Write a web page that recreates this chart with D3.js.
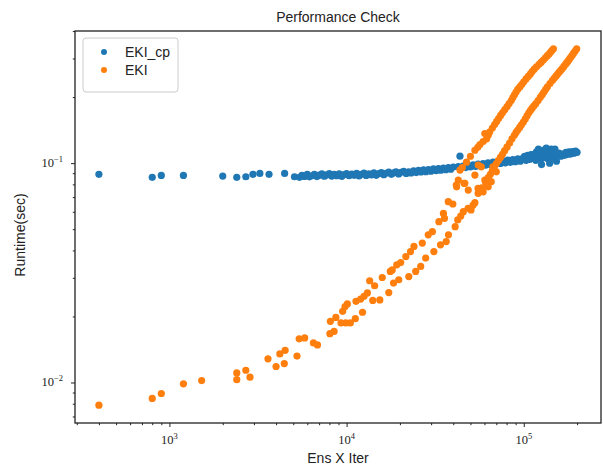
<!DOCTYPE html>
<html>
<head>
<meta charset="utf-8">
<script src="https://cdn.jsdelivr.net/npm/d3@7"></script>
<style>
  body { margin: 0; background: #fff; }
</style>
</head>
<body>
<svg id="chart"></svg>
<script>
// series names + colours (matplotlib default cycle)
const seriesNames = ["EKI_cp", "EKI"];
const seriesColors = ["#1f77b4", "#ff7f0e"];

// EKI_cp : [ens x iter, runtime]
const cpPoints = [
  [400, .0889], [800, .0862], [900, .0879], [1200, .0879], [2000, .0873], [2400, .0862],
  [2700, .0867], [2960, .0889], [3240, .0898], [3650, .0889], [4470, .0898], [5080, .0867],
  [5420, .0862], [5600, .0880], [5780, .0870], [6000, .0888], [6170, .0866], [6400, .0876],
  [6580, .0889], [6800, .0868], [7020, .0881], [7250, .0893], [7490, .0872], [7700, .0884],
  [7990, .0895], [8250, .0873], [8520, .0888], [8800, .0877], [9080, .0894], [9400, .0871],
  [9690, .0887], [10000, .0897], [10330, .0876], [10700, .0891], [11020, .0880], [11400, .0898],
  [11750, .0874], [12100, .0890], [12540, .0900], [12900, .0879], [13370, .0894], [13800, .0883],
  [14260, .0902], [14700, .0880], [15210, .0896], [15700, .0906], [16220, .0886], [16700, .0899],
  [17300, .0910], [17900, .0889], [18460, .0903], [19000, .0913], [19690, .0892], [20300, .0908],
  [21000, .0918], [21700, .0897], [22400, .0913], [23100, .0902], [23890, .0922], [24700, .0906],
  [25480, .0927], [26300, .0911], [27180, .0932], [28000, .0914], [28990, .0935], [29900, .0919],
  [30920, .0941], [32000, .0924], [32980, .0945], [34000, .0929], [35180, .0950], [36300, .0934],
  [37520, .0955], [38700, .0939], [40020, .0960], [43650, .1076], [42690, .0963], [44000, .0949],
  [45530, .0970], [47000, .0954], [48560, .0976], [50000, .0960], [51800, .0982], [53500, .0966],
  [55250, .0989], [57000, .0971], [58930, .0996], [60800, .0978], [62860, .1003], [65000, .0984],
  [67040, .1010], [69000, .0990], [71510, .1017], [73800, .0997], [76270, .1024], [78700, .1003],
  [81350, .1031], [84000, .1009], [86770, .1038], [89500, .1015], [92560, .1045], [95500, .1020],
  [98720, .1052], [101000, .1075], [103000, .1030], [105300, .1085], [108000, .1040], [110000, .1095],
  [112300, .1050], [115000, .1100], [117000, .1030], [118000, .1125], [119800, .1075], [121000, .1160],
  [122000, .1100], [124000, .1135], [125000, .1045], [126000, .0985], [127800, .1085], [130000, .1060],
  [131000, .1150], [133000, .1100], [134000, .1170], [136300, .1050], [138000, .1120], [139000, .1090],
  [140000, .1000], [142000, .1070], [143000, .1160], [145400, .1105], [146000, .1135], [148000, .1060],
  [150000, .1160], [151000, .1095], [153000, .1020], [155100, .1080], [158000, .1110], [162000, .1075],
  [165400, .1100], [170000, .1085], [173000, .1120], [176400, .1095], [180000, .1125], [184000, .1100],
  [188200, .1130], [192000, .1110], [196000, .1135], [200000, .1120]
];

// EKI
const ekiPoints = [
  [400, .00788], [800, .00846], [900, .00891], [1200, .00986], [1520, .0102],
  [2400, .01106], [2400, .0103], [2700, .01137], [2850, .01057],
  [3600, .01282], [4000, .01183], [4200, .0135], [4450, .01219], [4500, .01402],
  [5250, .0132], [5400, .01581], [5800, .01597], [6500, .01514], [6850, .01483],
  [8050, .0167], [8500, .0171], [8100, .019], [8700, .0198], [9300, .01868], [9900, .01868], [10500, .01868],
  [9500, .0211], [9800, .0222], [10100, .0228], [11200, .01954], [11300, .02344], [12000, .024],
  [12300, .0209], [12550, .0247], [13100, .0256], [13500, .0291], [14050, .02366], [14400, .0276],
  [15400, .0238], [15900, .0301], [17300, .0257], [17650, .0321], [18400, .0284], [19200, .0344],
  [18100, .0326], [19700, .0294], [20200, .0352], [21600, .0375], [22450, .0304], [22950, .0395],
  [24000, .0417], [24550, .0321], [26200, .0338], [26750, .0432], [27950, .0369], [28900, .0471],
  [30500, .0487], [31100, .0395], [33200, .0541], [33900, .0424], [35700, .056], [36500, .0439],
  [37600, .0471], [39800, .0651], [41000, .0513], [42400, .0551], [44100, .0574], [45600, .0601],
  [48500, .0622], [50400, .0612], [51800, .0644], [53000, .066], [35200, .059], [37500, .0667],
  [41600, .0794], [41800, .078], [42700, .0837], [43650, .093], [46000, .0809], [46500, .0809],
  [48600, .0754], [53000, .0882], [55200, .0767], [55250, .0728], [55300, .098], [57600, .0962],
  [59000, .074], [60300, .0837], [60300, .1364], [63000, .078], [65500, .0823], [67000, .0962], [70000, .0913],
  // upper branch
  [45000, .0955], [47500, .101], [50000, .1075], [53000, .1145], [55000, .118], [56600, .1215],
  [59000, .1255], [61700, .129], [63000, .134], [64300, .139], [66500, .1445], [68500, .150],
  [70300, .155], [72200, .160], [74000, .165], [76000, .170], [78200, .1755], [80500, .181],
  [82700, .187], [85000, .193], [86800, .199], [88600, .205], [90500, .211], [92500, .217],
  [95000, .2225], [97400, .228], [100000, .235], [103000, .242], [106000, .2485], [109000, .255],
  [111500, .2615], [114500, .268], [118000, .275], [122000, .282], [125500, .2885], [129000, .295],
  [132500, .302], [136000, .309], [139000, .3145], [141500, .320], [144000, .326], [147000, .332],
  // lower branch
  [58000, .0771], [61000, .0815], [63000, .086], [64800, .089], [66500, .0925], [68200, .096],
  [70000, .0995], [72000, .103], [74000, .1065], [76000, .110], [78000, .114], [80500, .1185],
  [83200, .1235], [85800, .129], [88500, .134], [90500, .138], [92500, .1415], [94800, .1455],
  [97000, .1495], [99500, .154], [102000, .159], [104500, .1645], [107000, .170], [109200, .174],
  [111500, .178], [114200, .1825], [117000, .187], [120500, .193], [124000, .1995], [127000, .205],
  [130000, .211], [133000, .217], [136000, .223], [140500, .2305], [145000, .238], [148500, .2435],
  [152000, .249], [155000, .254], [158000, .259], [161500, .2645], [165000, .270], [168500, .276],
  [172000, .282], [175000, .287], [178000, .2925], [181000, .298], [184000, .3035], [187500, .310],
  [191000, .317], [195000, .3245], [199000, .332]
];

// decades that carry a label
const xTickExps = [3, 4, 5];
const yTickExps = [-2, -1];

class LogScatter {

    constructor(config, series) {
        this.config = {
            parent: config.parent,
            width: config.width || 603,
            height: config.height || 468,
            margin: config.margin || {top: 31, right: 2, bottom: 45, left: 75}
        };
        this.series = series;
        this.init();
    }

    init() {
        let self = this;

        self.svg = d3.select(self.config.parent)
            .attr('width', self.config.width)
            .attr('height', self.config.height)
            .style('font-family', '"Liberation Sans", Arial, sans-serif');

        self.inner_width = self.config.width - self.config.margin.left - self.config.margin.right;
        self.inner_height = self.config.height - self.config.margin.top - self.config.margin.bottom;

        self.chart = self.svg.append('g')
            .attr('transform', `translate(${self.config.margin.left}, ${self.config.margin.top})`);

        // matplotlib style 5% padding in log space
        let all = self.series.flatMap(s => s.points);
        let pad = (ext) => {
            let lo = Math.log10(ext[0]), hi = Math.log10(ext[1]), m = (hi - lo) * 0.05;
            return [Math.pow(10, lo - m), Math.pow(10, hi + m)];
        };

        self.xscale = d3.scaleLog()
            .domain(pad(d3.extent(all, d => d[0])))
            .range([0, self.inner_width]);

        self.yscale = d3.scaleLog()
            .domain(pad(d3.extent(all, d => d[1])))
            .range([self.inner_height, 0]);
    }

    render() {
        let self = this;
        let isMajor = v => Math.abs(Math.log10(v) - Math.round(Math.log10(v))) < 1e-9;

        // x axis
        let xAxis = d3.axisBottom(self.xscale)
            .tickValues(self.xscale.ticks())
            .tickFormat('')
            .tickSizeOuter(0);
        let xg = self.chart.append('g')
            .attr('transform', `translate(0, ${self.inner_height})`)
            .call(xAxis);
        xg.select('.domain').remove();
        xg.selectAll('.tick line')
            .attr('stroke', '#222')
            .attr('stroke-width', 1)
            .attr('y2', d => isMajor(d) ? 4 : 2.2);

        let xlab = self.chart.append('g')
            .selectAll('text')
            .data(xTickExps)
            .join('text')
            .attr('x', d => self.xscale(Math.pow(10, d)))
            .attr('y', self.inner_height + 21)
            .attr('text-anchor', 'middle')
            .style('font-family', '"Liberation Serif", "DejaVu Serif", serif')
            .style('font-size', '12.5px')
            .attr('fill', '#222');
        xlab.append('tspan').text('10');
        xlab.append('tspan').attr('dy', -5).style('font-size', '8.5px').text(d => d);

        // y axis
        let yAxis = d3.axisLeft(self.yscale)
            .tickValues(self.yscale.ticks())
            .tickFormat('')
            .tickSizeOuter(0);
        let yg = self.chart.append('g').call(yAxis);
        yg.select('.domain').remove();
        yg.selectAll('.tick line')
            .attr('stroke', '#222')
            .attr('stroke-width', 1)
            .attr('x2', d => isMajor(d) ? -4 : -2.2);

        let ylab = self.chart.append('g')
            .selectAll('text')
            .data(yTickExps)
            .join('text')
            .attr('x', -12)
            .attr('y', d => self.yscale(Math.pow(10, d)) + 4)
            .attr('text-anchor', 'end')
            .style('font-family', '"Liberation Serif", "DejaVu Serif", serif')
            .style('font-size', '12.5px')
            .attr('fill', '#222');
        ylab.append('tspan').text('10');
        ylab.append('tspan').attr('dy', -5).style('font-size', '8.5px')
            .text(d => '\u2212' + Math.abs(d));

        // points, EKI_cp drawn first so EKI sits on top
        self.series.forEach(s => {
            self.chart.append('g')
                .selectAll('circle')
                .data(s.points)
                .join('circle')
                .attr('cx', d => self.xscale(d[0]))
                .attr('cy', d => self.yscale(d[1]))
                .attr('r', 3.6)
                .attr('fill', s.color);
        });

        // frame
        self.chart.append('rect')
            .attr('width', self.inner_width)
            .attr('height', self.inner_height)
            .attr('fill', 'none')
            .attr('stroke', '#222')
            .attr('stroke-width', 1.3);

        // title + labels
        self.svg.append('text')
            .attr('x', self.config.margin.left + self.inner_width / 2)
            .attr('y', 22)
            .attr('text-anchor', 'middle')
            .style('font-size', '14px')
            .attr('fill', '#222')
            .text('Performance Check');

        self.svg.append('text')
            .attr('x', self.config.margin.left + self.inner_width / 2)
            .attr('y', 463)
            .attr('text-anchor', 'middle')
            .style('font-size', '14px')
            .attr('fill', '#222')
            .text('Ens X Iter');

        self.svg.append('text')
            .attr('transform', `translate(25, ${self.config.margin.top + self.inner_height / 2 + 8}) rotate(-90)`)
            .attr('text-anchor', 'middle')
            .style('font-size', '14px')
            .attr('fill', '#222')
            .text('Runtime(sec)');

        // legend
        let lg = self.chart.append('g').attr('transform', 'translate(8, 7)');
        lg.append('rect')
            .attr('width', 95)
            .attr('height', 54)
            .attr('rx', 3)
            .attr('fill', 'white')
            .attr('fill-opacity', 0.8)
            .attr('stroke', '#ccc');
        let items = lg.selectAll('g.item')
            .data(self.series)
            .join('g')
            .attr('class', 'item')
            .attr('transform', (d, i) => `translate(0, ${14 + i * 18})`);
        items.append('circle')
            .attr('cx', 21)
            .attr('r', 3)
            .attr('fill', d => d.color);
        items.append('text')
            .attr('x', 42)
            .attr('y', 5)
            .style('font-size', '14px')
            .attr('fill', '#222')
            .text(d => d.name);
    }
}

let chart = new LogScatter({parent: '#chart', width: 603, height: 468}, [
    {name: seriesNames[0], color: seriesColors[0], points: cpPoints},
    {name: seriesNames[1], color: seriesColors[1], points: ekiPoints}
]);
chart.render();
</script>
</body>
</html>
